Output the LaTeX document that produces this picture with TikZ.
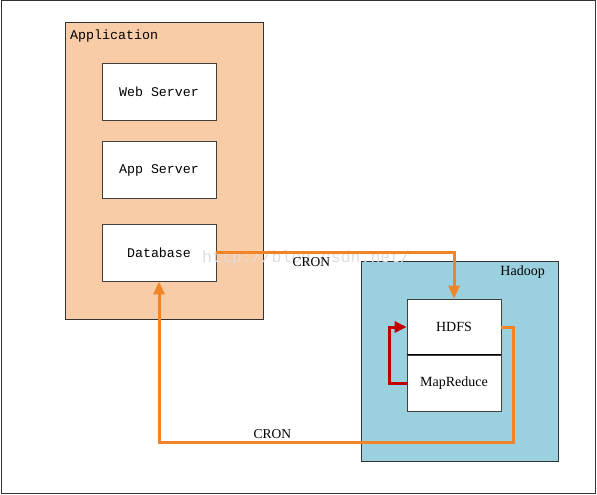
\documentclass[tikz,border=0pt]{standalone}
\usepackage{fontspec}
\setmainfont{Liberation Serif}
\setmonofont{Liberation Mono}
\usepackage{tikz}
\usetikzlibrary{arrows.meta, positioning}

\begin{document}
\begin{tikzpicture}[x=1pt, y=-1pt,
  group/.style={draw=black!80, line width=0.8pt, anchor=north west, inner sep=0pt},
  srv/.style={draw=black!75, fill=white, line width=0.8pt, minimum width=114, minimum height=57, inner sep=0pt, font=\fontsize{13.3}{15}\ttfamily},
  hbox/.style={draw=black!75, fill=white, line width=0.8pt, minimum width=94, minimum height=56, inner sep=0pt, font=\fontsize{14}{16}\selectfont},
  cron/.style={draw=colCron, line width=3pt, -{Triangle[length=13pt,width=11pt]}},
  loopback/.style={draw=colLoop, line width=3pt, -{Triangle[length=12pt,width=11pt]}},
  lbl/.style={font=\fontsize{13.5}{15}\selectfont, inner sep=1pt}]

% ------------------------
% Colors
% ------------------------
\definecolor{colApp}{RGB}{249,204,168}
\definecolor{colHad}{RGB}{155,208,222}
\definecolor{colCron}{RGB}{241,132,38}
\definecolor{colLoop}{RGB}{192,0,0}

% page and outer frame
\useasboundingbox (0,0) rectangle (597,495);
\draw[black!80, line width=1pt] (1,1) rectangle (595,493);

% ------------------------
% Application side
% ------------------------
\node[group, fill=colApp, minimum width=198, minimum height=297] (app) at (65,22) {};
\node[anchor=west, font=\fontsize{13.3}{15}\ttfamily, inner sep=0pt] (applbl) at (70,36) {Application};

\node[srv] (web) at (159,91.5) {Web Server};
\node[srv] (appsrv) at (159,170) {App Server};
\node[srv] (db) at (159,252.5) {Database};

% ------------------------
% Hadoop side
% ------------------------
\node[group, fill=colHad, minimum width=197, minimum height=200] (hadoop) at (361,261) {};
\node[anchor=east, font=\fontsize{14}{16}\selectfont, inner sep=0pt] (hadlbl) at (545,272) {Hadoop};

\node[hbox] (hdfs) at (454,327) {HDFS};
\node[hbox] (mr) at (454,383) {MapReduce};
\draw[black, line width=0.8pt] (mr.north west) -- (mr.north east);

% watermark
\node[anchor=west, font=\fontsize{16.5}{18}\ttfamily, text=black!13, inner sep=0pt] (mark) at (202,258) {http://blog.csdn.net/};

% ------------------------
% Connectors
% ------------------------
\coordinate (cronB) at (513,442);

\draw[cron] (db.east) -| node[lbl, pos=0.2, below=3pt] (cron1) {CRON} (hdfs.north);
\draw[cron] (hdfs.east) -| (cronB) -| node[lbl, pos=0.34, above=1pt] (cron2) {CRON} (db.south);
\draw[loopback] (mr.west) -- ++(-17,0) |- (hdfs.west);

\end{tikzpicture}
\end{document}
